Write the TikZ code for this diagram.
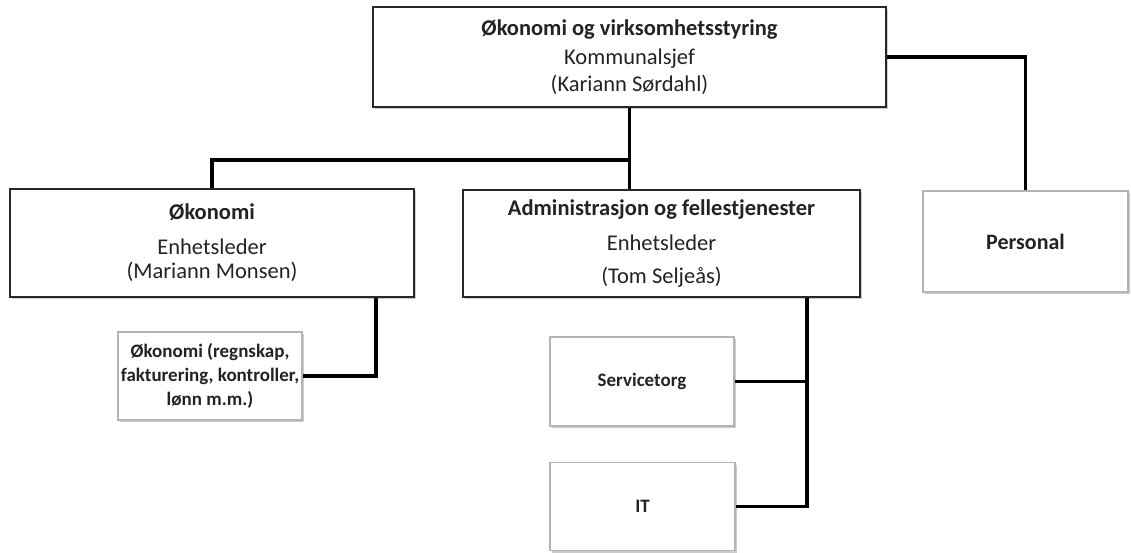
\documentclass[tikz,border=0pt]{standalone}
\usepackage{fontspec}
\setmainfont{Carlito}
\usetikzlibrary{shadows}
\definecolor{boxdark}{RGB}{40,40,40}
\definecolor{boxlight}{RGB}{180,180,180}
\definecolor{txtgray}{RGB}{35,35,35}

\begin{document}
\begin{tikzpicture}[
  x=1pt,y=-1pt,
  font=\fontsize{22.5}{27}\selectfont,
  box/.style={draw=boxdark,line width=1.8pt,fill=white,align=center,inner sep=0pt,
              text=txtgray,drop shadow={shadow xshift=2pt,shadow yshift=-2pt,opacity=0.4}},
  subbox/.style={box,draw=boxlight,line width=1.2pt,font=\bfseries\fontsize{19}{24}\selectfont},
  link/.style={line width=3.5pt,black}
]
\useasboundingbox (0,0) rectangle (1131,552);

\node[box,minimum width=513pt,minimum height=100pt] (head) at (629.5,57)
  {\textbf{Økonomi og virksomhetsstyring}\\[2pt]
   Kommunalsjef\\
   (Kariann Sørdahl)};

\node[box,minimum width=404pt,minimum height=108pt] (okon) at (212,243)
  {\textbf{Økonomi}\\[8pt]
   Enhetsleder\\[-3pt]
   (Mariann Monsen)};

\node[box,minimum width=397pt,minimum height=107pt] (adm) at (661.5,243.5)
  {\textbf{Administrasjon og fellestjenester}\\[8pt]
   Enhetsleder\\[6pt]
   (Tom Seljeås)};

\node[subbox,minimum width=205pt,minimum height=101pt,font=\bfseries\fontsize{22}{26}\selectfont] (pers) at (1025.5,241.5) {Personal};

\node[subbox,minimum width=184pt,minimum height=88pt] (okonsub) at (210,376)
  {Økonomi (regnskap,\\fakturering, kontroller,\\lønn m.m.)};

\node[subbox,minimum width=184pt,minimum height=89pt] (svc) at (642,381.5) {Servicetorg};
\node[subbox,minimum width=185pt,minimum height=88pt] (it) at (642.5,506.5) {IT};

\coordinate (okondrop) at ([xshift=-39pt]okon.south east);
\coordinate (admdrop) at ([xshift=-54pt]adm.south east);

\draw[link] (head.south) -- (head.south |- adm.north);
\draw[link] (okon.north) -- ++(0,-28) -| (head.south);
\draw[link] (head.east) -| (pers.north);
\draw[link] (okonsub.east) -| (okondrop);
\draw[link] (it.east) -| (admdrop);
\draw[link] (svc.east) -- (admdrop |- svc.east);
\end{tikzpicture}
\end{document}
